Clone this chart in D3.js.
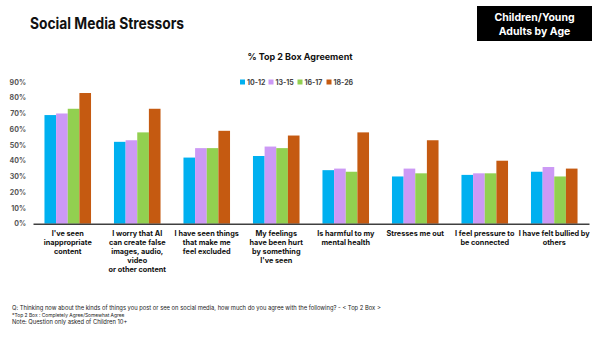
<!DOCTYPE html>
<html><head><meta charset="utf-8">
<script src="https://cdn.jsdelivr.net/npm/d3@7"></script>
<style>body{margin:0;background:#fff}svg{display:block}text{font-family:Inter,"Liberation Sans",Arial,sans-serif}</style>
</head><body><svg id="c" width="600" height="337"></svg>
<script>
const categories = [
  ["I've seen","inappropriate","content"],
  ["I worry that AI","can create false","images, audio,","video","or other content"],
  ["I have seen things","that make me","feel excluded"],
  ["My feelings","have been hurt","by something","I've seen"],
  ["Is harmful to my","mental health"],
  ["Stresses me out"],
  ["I feel pressure to","be connected"],
  ["I have felt bullied by","others"]
];
const seriesNames = ["10-12","13-15","16-17","18-26"];
const s1012 = [69,52,42,43,34,30,31,33];
const s1315 = [70,53,48,49,35,35,32,36];
const s1617 = [73,58,48,48,33,32,32,30];
const s1826 = [83,73,59,56,58,53,40,35];
const colors = ["#00B0F0","#CC99F5","#92D050","#C55A11"];
const yTicks = [0,10,20,30,40,50,60,70,80,90];
const footnotes = [
  "Q: Thinking now about the kinds of things you post or see on social media, how much do you agree with the following? - < Top 2 Box >",
  "*Top 2 Box : Completely Agree/Somewhat Agree",
  "Note:  Question only asked of Children 10+"
];

const allSeries = [s1012,s1315,s1617,s1826];
const svg = d3.select("#c");

svg.append("text").attr("x",30).attr("y",29).attr("font-size",15.5).attr("font-weight",700).attr("fill","#111")
  .attr("textLength",154).attr("lengthAdjust","spacingAndGlyphs").text("Social Media Stressors");
svg.append("rect").attr("x",477).attr("y",6).attr("width",115).attr("height",35).attr("fill","#000");
svg.append("text").attr("x",534.5).attr("y",21).attr("text-anchor","middle").attr("font-size",10.5).attr("font-weight",700).attr("fill","#fff").text("Children/Young");
svg.append("text").attr("x",534.5).attr("y",35).attr("text-anchor","middle").attr("font-size",10.5).attr("font-weight",700).attr("fill","#fff").text("Adults by Age");
svg.append("text").attr("x",300).attr("y",60).attr("text-anchor","middle").attr("font-size",9).attr("font-weight",700).attr("fill","#111").text("% Top 2 Box Agreement");

const x0 = d3.scaleBand().domain(d3.range(categories.length)).range([33,589]).paddingInner(0.33).paddingOuter(0.165);
const x1 = d3.scaleBand().domain(seriesNames).range([0,x0.bandwidth()]);
const y = d3.scaleLinear().domain([0,90]).range([223.7,82]);

// y labels
const ya = svg.append("g").attr("transform","translate(29,0)").call(d3.axisLeft(y).tickValues(yTicks).tickFormat(d=>d+"%").tickSize(0));
ya.select(".domain").remove();
ya.selectAll("text").attr("font-size",7).attr("font-weight",700).attr("fill","#555").attr("font-family","Inter,Arial,sans-serif");

// bars
const g = svg.append("g");
categories.forEach((c,i)=>{
  seriesNames.forEach((s,j)=>{
    const v = allSeries[j][i];
    g.append("rect").attr("x",x0(i)+x1(s)).attr("y",y(v)).attr("width",x1.bandwidth()).attr("height",y(0)-y(v)).attr("fill",colors[j]);
  });
});

// axis line
const xa = svg.append("g").attr("transform",`translate(0,${y(0)})`).call(d3.axisBottom(x0).tickSize(0).tickFormat(""));
xa.select(".domain").attr("stroke","#404040").attr("stroke-width",1.6);

// x labels
categories.forEach((lines,i)=>{
  const cx = x0(i)+x0.bandwidth()/2;
  const t = svg.append("text").attr("text-anchor","middle").attr("font-size",7.3).attr("font-weight",700).attr("fill","#111");
  lines.forEach((l,k)=>t.append("tspan").attr("x",cx).attr("y",236+k*9).text(l));
});

// legend
const lx = [240,268.5,297.5,326.5];
seriesNames.forEach((s,j)=>{
  svg.append("rect").attr("x",lx[j]).attr("y",79.5).attr("width",5).attr("height",5).attr("fill",colors[j]);
  svg.append("text").attr("x",lx[j]+7).attr("y",85).attr("font-size",7).attr("font-weight",700).attr("fill","#444").text(s);
});

// footnotes
footnotes.forEach((f,k)=>{
  svg.append("text").attr("x",12).attr("y",[310,317,324][k]).attr("font-size",[5.8,4.9,5.8][k]).attr("fill","#222").attr("font-family","'Liberation Sans',Arial,sans-serif").text(f);
});
</script></body></html>
